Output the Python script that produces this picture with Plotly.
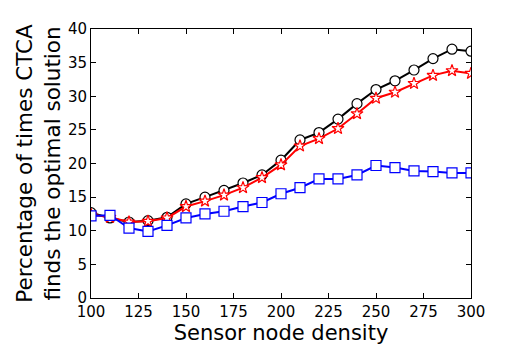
import plotly.graph_objects as go

density = [100, 110, 120, 130, 140, 150, 160, 170, 180, 190, 200,
           210, 220, 230, 240, 250, 260, 270, 280, 290, 300]

# three series
black_circle = [12.7, 11.9, 11.3, 11.5, 12.0, 14.0, 15.0, 16.0, 17.1, 18.3, 20.5,
                23.5, 24.6, 26.6, 28.9, 31.0, 32.3, 33.9, 35.6, 37.0, 36.7]
red_star = [12.4, 12.0, 11.3, 11.4, 11.9, 13.6, 14.4, 15.3, 16.4, 17.9, 19.8,
            22.6, 23.7, 25.2, 27.4, 29.7, 30.6, 31.9, 33.1, 33.8, 33.4]
blue_square = [12.2, 12.3, 10.4, 9.9, 10.8, 11.9, 12.5, 12.9, 13.6, 14.2, 15.5,
               16.4, 17.7, 17.7, 18.3, 19.7, 19.4, 18.9, 18.8, 18.6, 18.6]

fig = go.Figure()

fig.add_trace(go.Scatter(x=density, y=black_circle, mode='lines+markers',
                         line=dict(color='black', width=2),
                         marker=dict(symbol='circle', size=10, color='white',
                                     line=dict(color='black', width=1.2))))
fig.add_trace(go.Scatter(x=density, y=red_star, mode='lines+markers',
                         line=dict(color='red', width=2),
                         marker=dict(symbol='star', size=9, color='white',
                                     line=dict(color='red', width=1.2))))
fig.add_trace(go.Scatter(x=density, y=blue_square, mode='lines+markers',
                         line=dict(color='blue', width=2),
                         marker=dict(symbol='square', size=10, color='white',
                                     line=dict(color='blue', width=1.2))))

axis_style = dict(showline=True, linecolor='black', linewidth=1, mirror='ticks',
                  ticks='inside', ticklen=5, tickcolor='black', showgrid=False,
                  zeroline=False, tickfont=dict(size=15, color='black'))

fig.update_xaxes(range=[100, 300], tickvals=[100, 125, 150, 175, 200, 225, 250, 275, 300],
                 title=dict(text='Sensor node density', font=dict(size=21, color='black'),
                            standoff=1),
                 **axis_style)
fig.update_yaxes(range=[0, 40], tickvals=[0, 5, 10, 15, 20, 25, 30, 35, 40],
                 title=dict(text='Percentage of times CTCA<br>finds the optimal solution',
                            font=dict(size=21.5, color='black'), standoff=1),
                 **axis_style)

# page body adds 8px on each side, so the figure is a bit smaller than the window
fig.update_layout(width=489, height=343, showlegend=False,
                  margin=dict(l=83, r=23, t=16, b=53),
                  paper_bgcolor='white', plot_bgcolor='white',
                  font=dict(family='DejaVu Sans', color='black'))

fig.write_html("out.html")
